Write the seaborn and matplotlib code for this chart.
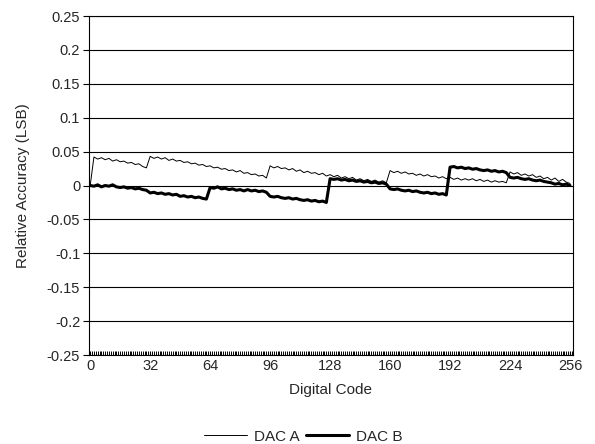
import matplotlib
matplotlib.use("Agg")
import matplotlib.pyplot as plt
from matplotlib.ticker import MultipleLocator, FixedLocator, FixedFormatter
import seaborn as sns
import pandas as pd

# Digital codes (every second code)
codes = list(range(0, 257, 2))

dac_a = [
    # 0..30
    0.000, 0.042, 0.039, 0.041, 0.038, 0.040, 0.036, 0.038, 0.035, 0.036, 0.033, 0.034, 0.031, 0.032, 0.028, 0.026,
    # 32..94
    0.043, 0.040, 0.042, 0.039, 0.041, 0.037, 0.039, 0.036, 0.037, 0.034, 0.035, 0.032, 0.033, 0.030, 0.031, 0.028,
    0.029, 0.026, 0.027, 0.024, 0.025, 0.022, 0.023, 0.020, 0.022, 0.018, 0.019, 0.016, 0.017, 0.014, 0.015, 0.011,
    # 96..158
    0.029, 0.026, 0.028, 0.025, 0.026, 0.023, 0.025, 0.021, 0.023, 0.019, 0.021, 0.018, 0.019, 0.016, 0.018, 0.014,
    0.016, 0.013, 0.015, 0.011, 0.013, 0.010, 0.012, 0.008, 0.010, 0.007, 0.009, 0.006, 0.008, 0.005, 0.007, 0.004,
    # 160..222
    0.022, 0.019, 0.021, 0.018, 0.020, 0.017, 0.018, 0.015, 0.017, 0.014, 0.016, 0.013, 0.014, 0.011, 0.013, 0.010,
    0.012, 0.009, 0.011, 0.008, 0.010, 0.008, 0.010, 0.007, 0.009, 0.006, 0.008, 0.005, 0.007, 0.005, 0.006, 0.004,
    # 224..256
    0.020, 0.017, 0.019, 0.015, 0.017, 0.014, 0.016, 0.012, 0.014, 0.010, 0.012, 0.008, 0.011, 0.006, 0.009, 0.005,
    0.003,
]

dac_b = [
    # 0..30
    0.000, -0.001, 0.001, -0.002, 0.000, -0.001, 0.001, -0.002, -0.003, -0.002, -0.004, -0.003, -0.005, -0.004, -0.006, -0.007,
    # 32..62
    -0.011, -0.010, -0.012, -0.011, -0.013, -0.012, -0.014, -0.013, -0.016, -0.015, -0.017, -0.016, -0.018, -0.017, -0.019, -0.020,
    # 64..94
    -0.003, -0.004, -0.002, -0.005, -0.004, -0.006, -0.005, -0.007, -0.006, -0.008, -0.006, -0.008, -0.007, -0.009, -0.008, -0.010,
    # 96..126
    -0.016, -0.017, -0.016, -0.018, -0.019, -0.018, -0.020, -0.019, -0.021, -0.022, -0.021, -0.023, -0.022, -0.024, -0.023, -0.025,
    # 128..158
    0.010, 0.009, 0.010, 0.008, 0.009, 0.007, 0.008, 0.006, 0.007, 0.005, 0.006, 0.004, 0.005, 0.003, 0.004, 0.002,
    # 160..190
    -0.005, -0.006, -0.005, -0.007, -0.008, -0.007, -0.009, -0.008, -0.010, -0.011, -0.010, -0.012, -0.011, -0.013, -0.012, -0.014,
    # 192..222
    0.027, 0.028, 0.026, 0.027, 0.025, 0.026, 0.024, 0.025, 0.023, 0.022, 0.023, 0.021, 0.022, 0.020, 0.021, 0.019,
    # 224..256
    0.012, 0.011, 0.012, 0.010, 0.009, 0.010, 0.008, 0.007, 0.008, 0.006, 0.005, 0.004, 0.002, 0.003, 0.001, 0.002,
    0.000,
]

y_ticks = [-0.25, -0.2, -0.15, -0.1, -0.05, 0, 0.05, 0.1, 0.15, 0.2, 0.25]
y_tick_labels = ["-0.25", "-0.2", "-0.15", "-0.1", "-0.05", "0", "0.05", "0.1", "0.15", "0.2", "0.25"]
x_ticks = [0, 32, 64, 96, 128, 160, 192, 224, 256]

sns.set_style("white")
plt.rcParams["font.family"] = ["Liberation Sans", "DejaVu Sans"]

df_a = pd.DataFrame({"code": codes, "val": dac_a})
df_b = pd.DataFrame({"code": codes, "val": dac_b})

fig = plt.figure(figsize=(5.95, 4.44), dpi=100)
ax = fig.add_axes([88.5 / 595, 1 - 355 / 444, (573 - 88.5) / 595, (355 - 16) / 444])

sns.lineplot(data=df_a, x="code", y="val", ax=ax, color="black", linewidth=0.7, label="DAC A")
sns.lineplot(data=df_b, x="code", y="val", ax=ax, color="black", linewidth=2.2, label="DAC B")

ax.set_xlim(-0.9, 257.6)
ax.set_ylim(-0.25, 0.25)
ax.yaxis.set_major_locator(FixedLocator(y_ticks))
ax.yaxis.set_major_formatter(FixedFormatter(y_tick_labels))
ax.xaxis.set_major_locator(FixedLocator(x_ticks))
ax.xaxis.set_minor_locator(MultipleLocator(1))

for yv in y_ticks:
    ax.axhline(yv, color="black", linewidth=0.8, zorder=0)

for s in ax.spines.values():
    s.set_color("black")
    s.set_linewidth(0.8)

ax.tick_params(axis="y", which="major", direction="out", length=4, width=0.8, color="black",
               labelsize=10.5, pad=2, left=True)
ax.tick_params(axis="x", which="major", direction="in", length=3, width=0.8, color="black",
               labelsize=10.5, pad=3, bottom=True)
ax.tick_params(axis="x", which="minor", direction="in", length=3, width=0.7, color="black", bottom=True)

ax.set_xlabel("Digital Code", fontsize=11, labelpad=7)
ax.set_ylabel("Relative Accuracy (LSB)", fontsize=11, labelpad=12)

ax.get_legend().remove()
handles, labels = ax.get_legend_handles_labels()
fig.legend(handles, labels, loc="lower center", bbox_to_anchor=(0.51, -0.03), ncol=2,
           frameon=False, fontsize=11, handlelength=2.8, columnspacing=0.4, handletextpad=0.5)

fig.savefig("out.png", dpi=100)
